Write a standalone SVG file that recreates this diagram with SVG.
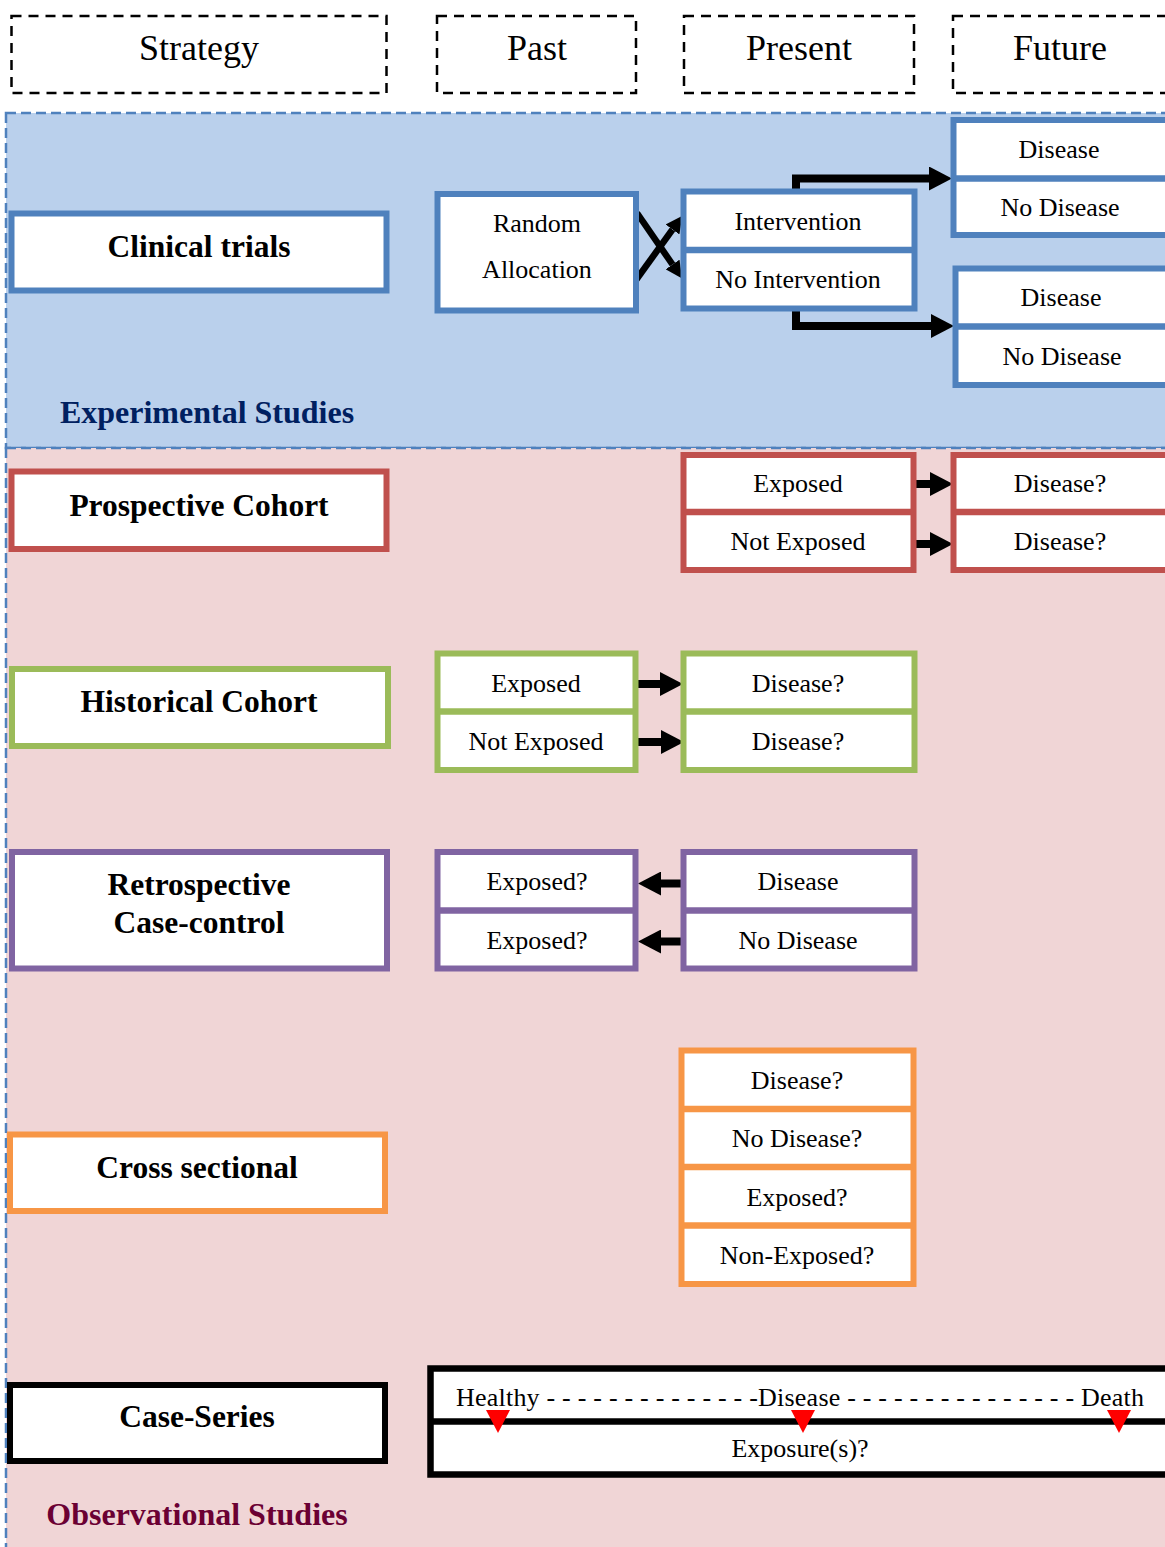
<svg xmlns="http://www.w3.org/2000/svg" width="1165" height="1547" viewBox="0 0 1165 1547">
<style>
text{font-family:"Liberation Serif","Times New Roman",serif;text-anchor:middle;fill:#000}
.ht{font-size:36px}
.lbl{font-size:31.5px;font-weight:bold}
.t{font-size:26px}
.reg{font-size:32px;font-weight:bold}
.hdr{fill:none;stroke:#000;stroke-width:2.5;stroke-dasharray:10 7}
.box{fill:#fff;stroke-width:6}
.dv{stroke-width:6.5}
.blue{stroke:#4F81BD}
.red{stroke:#C0504D}
.green{stroke:#9BBB59}
.purple{stroke:#8064A2}
.orange{stroke:#F79646}
.black{stroke:#000}
.arr{fill:none;stroke:#000;stroke-width:8;stroke-linejoin:miter}
.arrS{fill:none;stroke:#000;stroke-width:6.5}
.tri{fill:#FF0000}
</style>
<defs>
<marker id="head" markerUnits="userSpaceOnUse" markerWidth="23" markerHeight="24" viewBox="0 0 23 24" refX="0" refY="12" orient="auto">
<path d="M0,0 L23,12 L0,24 z" fill="#000"/>
</marker>
<marker id="headS" markerUnits="userSpaceOnUse" markerWidth="17" markerHeight="17" viewBox="0 0 17 17" refX="0" refY="8.5" orient="auto">
<path d="M0,0 L17,8.5 L0,17 z" fill="#000"/>
</marker>
</defs>

<g id="regions">
<rect x="6" y="113" width="1200" height="335" fill="#BAD0EC" stroke="#4F81BD" stroke-width="2.5" stroke-dasharray="10 5"/>
<rect x="6" y="448" width="1200" height="1130" fill="#F0D5D6" stroke="#4F81BD" stroke-width="2.5" stroke-dasharray="10 5"/>
<text class="reg" x="207" y="423" fill="#002060" style="fill:#002060">Experimental Studies</text>
<text class="reg" x="197" y="1525" style="fill:#6B0033">Observational Studies</text>
</g>

<g id="headers">
<g id="h-strategy"><rect class="hdr" x="11.5" y="16" width="375" height="77"/><text class="ht" x="199" y="60">Strategy</text></g>
<g id="h-past"><rect class="hdr" x="437" y="16" width="199" height="77"/><text class="ht" x="537" y="60">Past</text></g>
<g id="h-present"><rect class="hdr" x="684" y="16" width="230" height="77"/><text class="ht" x="799" y="60">Present</text></g>
<g id="h-future"><rect class="hdr" x="953" y="16" width="240" height="77"/><text class="ht" x="1060" y="60">Future</text></g>
</g>

<g id="connectors">
<path class="arr" d="M796,191 V178.5 H929" marker-end="url(#head)"/>
<path class="arr" d="M796,309 V326 H931" marker-end="url(#head)"/>
<line class="arrS" x1="637" y1="213" x2="672.5" y2="264.5" marker-end="url(#headS)"/>
<line class="arrS" x1="636" y1="280" x2="672.5" y2="229.5" marker-end="url(#headS)"/>
<line class="arr" x1="913" y1="484" x2="930" y2="484" marker-end="url(#head)"/>
<line class="arr" x1="913" y1="544" x2="930" y2="544" marker-end="url(#head)"/>
<line class="arr" x1="636" y1="684" x2="660" y2="684" marker-end="url(#head)"/>
<line class="arr" x1="638" y1="742" x2="661" y2="742" marker-end="url(#head)"/>
<line class="arr" x1="685" y1="883.5" x2="661" y2="883.5" marker-end="url(#head)"/>
<line class="arr" x1="685" y1="941.5" x2="661" y2="941.5" marker-end="url(#head)"/>
</g>

<g id="clinical-trials"><rect class="box blue" x="11.5" y="213.5" width="375" height="77"/><text class="lbl" x="199" y="257">Clinical trials</text></g>
<g id="random-allocation"><rect class="box blue" x="437.5" y="194" width="198.5" height="116.5"/><text class="t" x="537" y="232">Random</text><text class="t" x="537" y="278">Allocation</text></g>
<g id="intervention"><rect class="box blue" x="683.5" y="191.5" width="231" height="117"/><line class="dv blue" x1="683.5" y1="250" x2="914.5" y2="250"/><text class="t" x="798" y="230">Intervention</text><text class="t" x="798" y="288">No Intervention</text></g>
<g id="outcome-intervention"><rect class="box blue" x="953.5" y="120" width="240" height="115"/><line class="dv blue" x1="953.5" y1="178.5" x2="1193" y2="178.5"/><text class="t" x="1059" y="157.5">Disease</text><text class="t" x="1060" y="215.5">No Disease</text></g>
<g id="outcome-no-intervention"><rect class="box blue" x="955.5" y="268.5" width="240" height="116.5"/><line class="dv blue" x1="955.5" y1="326.5" x2="1195" y2="326.5"/><text class="t" x="1061" y="306">Disease</text><text class="t" x="1062" y="365">No Disease</text></g>

<g id="prospective-cohort"><rect class="box red" x="11.5" y="471.5" width="375" height="77.5"/><text class="lbl" x="199" y="516">Prospective Cohort</text></g>
<g id="prospective-exposure"><rect class="box red" x="683.5" y="455" width="230" height="115"/><line class="dv red" x1="683.5" y1="512" x2="913.5" y2="512"/><text class="t" x="798" y="492">Exposed</text><text class="t" x="798" y="550">Not Exposed</text></g>
<g id="prospective-outcome"><rect class="box red" x="953.5" y="455" width="240" height="115"/><line class="dv red" x1="953.5" y1="512" x2="1193" y2="512"/><text class="t" x="1060" y="492">Disease?</text><text class="t" x="1060" y="550">Disease?</text></g>

<g id="historical-cohort"><rect class="box green" x="12" y="669" width="376" height="77"/><text class="lbl" x="199" y="712">Historical Cohort</text></g>
<g id="historical-exposure"><rect class="box green" x="437.5" y="653.5" width="198" height="116.5"/><line class="dv green" x1="437.5" y1="711.5" x2="635.5" y2="711.5"/><text class="t" x="536" y="691.5">Exposed</text><text class="t" x="536" y="750">Not Exposed</text></g>
<g id="historical-outcome"><rect class="box green" x="683.5" y="653.5" width="231" height="116.5"/><line class="dv green" x1="683.5" y1="711.5" x2="914.5" y2="711.5"/><text class="t" x="798" y="691.5">Disease?</text><text class="t" x="798" y="750">Disease?</text></g>

<g id="case-control"><rect class="box purple" x="12" y="852" width="375" height="116.5"/><text class="lbl" x="199" y="895">Retrospective</text><text class="lbl" x="199" y="933">Case-control</text></g>
<g id="case-control-exposure"><rect class="box purple" x="437.5" y="852" width="198" height="116.5"/><line class="dv purple" x1="437.5" y1="910.5" x2="635.5" y2="910.5"/><text class="t" x="537" y="890">Exposed?</text><text class="t" x="537" y="949">Exposed?</text></g>
<g id="case-control-outcome"><rect class="box purple" x="683.5" y="852" width="231" height="116.5"/><line class="dv purple" x1="683.5" y1="910.5" x2="914.5" y2="910.5"/><text class="t" x="798" y="890">Disease</text><text class="t" x="798" y="949">No Disease</text></g>

<g id="cross-sectional"><rect class="box orange" x="10" y="1134.5" width="375" height="76.5"/><text class="lbl" x="197" y="1178">Cross sectional</text></g>
<g id="cross-sectional-states"><rect class="box orange" x="681.5" y="1050.5" width="232" height="233.5"/><line class="dv orange" x1="681.5" y1="1109" x2="913.5" y2="1109"/><line class="dv orange" x1="681.5" y1="1167" x2="913.5" y2="1167"/><line class="dv orange" x1="681.5" y1="1225.5" x2="913.5" y2="1225.5"/><text class="t" x="797" y="1089">Disease?</text><text class="t" x="797" y="1147">No Disease?</text><text class="t" x="797" y="1205.5">Exposed?</text><text class="t" x="797" y="1264">Non-Exposed?</text></g>

<g id="case-series"><rect class="box black" x="10" y="1385" width="375" height="76"/><text class="lbl" x="197" y="1427">Case-Series</text></g>
<g id="timeline"><rect class="box black" x="430.5" y="1368.5" width="780" height="106" style="stroke-width:6.5"/><line class="dv black" x1="430.5" y1="1421.5" x2="1210" y2="1421.5"/>
<text class="t" x="456" y="1406" style="text-anchor:start" textLength="688" lengthAdjust="spacing">Healthy - - - - - - - - - - - - - -Disease - - - - - - - - - - - - - - - Death</text>
<polygon class="tri" points="486,1410 510,1410 498,1433"/>
<polygon class="tri" points="791,1410 815,1410 803,1433"/>
<polygon class="tri" points="1107,1410 1131,1410 1119,1433"/>
<text class="t" x="800" y="1457">Exposure(s)?</text></g>
</svg>
